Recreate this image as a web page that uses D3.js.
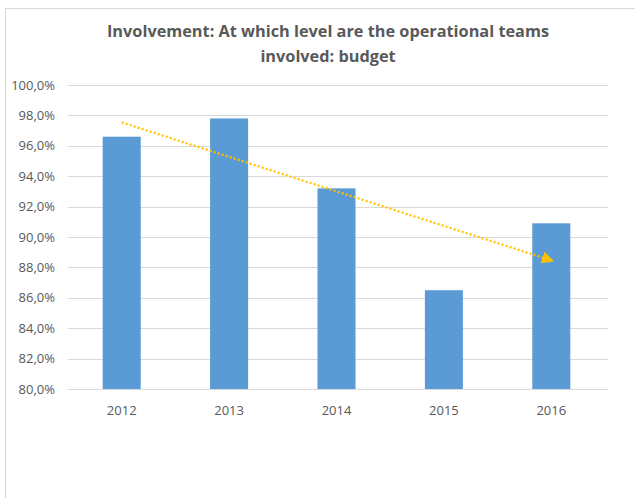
<!DOCTYPE html>
<html><head><meta charset="utf-8">
<script src="https://cdn.jsdelivr.net/npm/d3@7"></script>
<style>body{margin:0;background:#fff}svg{display:block}</style>
</head><body>
<script>
const categories = ["2012","2013","2014","2015","2016"];
const values = [96.6, 97.8, 93.2, 86.5, 90.9];
const yTicks = [80,82,84,86,88,90,92,94,96,98,100];
const titleLines = ["Involvement: At which level are the operational teams","involved: budget"];

const W = 635, H = 498;
const svg = d3.select("body").append("svg").attr("width", W).attr("height", H);
svg.append("rect").attr("x",5.5).attr("y",8.5).attr("width",700).attr("height",600)
  .attr("fill","#fff").attr("stroke","#d9d9d9").attr("stroke-width",1);

const m = {left:68, right:605, top:85, bottom:389};
const x = d3.scaleBand().domain(categories).range([m.left, m.right]).paddingInner(0.646).paddingOuter(0.323);
const y = d3.scaleLinear().domain([80,100]).range([m.bottom, m.top]);

const font = "Open Sans, Noto Sans, sans-serif";
// gridlines
svg.append("g").selectAll("line").data(yTicks).join("line")
  .attr("x1", m.left).attr("x2", 608)
  .attr("y1", d=>Math.round(y(d))+0.5).attr("y2", d=>Math.round(y(d))+0.5)
  .attr("stroke","#d9d9d9").attr("stroke-width",1);

// y axis labels
const yAxis = d3.axisLeft(y).tickValues(yTicks).tickSize(0).tickPadding(0)
  .tickFormat(d => d3.format(".1f")(d).replace(".", ",") + "%");
svg.append("g").attr("transform",`translate(55,0)`).call(yAxis)
  .call(g=>g.select(".domain").remove())
  .selectAll("text").attr("fill","#595959").attr("font-size",13).attr("font-family",font);

// bars
svg.append("g").selectAll("rect").data(values).join("rect")
  .attr("x",(d,i)=>x(categories[i])).attr("width",x.bandwidth())
  .attr("y",d=>y(d)).attr("height",d=>y(80)-y(d)).attr("fill","#5b9bd5");

// x axis
const xAxis = d3.axisBottom(x).tickSize(0).tickPadding(0);
svg.append("g").attr("transform",`translate(0,${m.bottom+17})`).call(xAxis)
  .call(g=>g.select(".domain").remove())
  .selectAll("text").attr("fill","#595959").attr("font-size",13).attr("font-family",font);
svg.append("line").attr("x1",m.left).attr("x2",608).attr("y1",m.bottom+0.5).attr("y2",m.bottom+0.5)
  .attr("stroke","#d9d9d9");

// trend line (linear regression)
const n = values.length, xs = values.map((d,i)=>i+1);
const mx = d3.mean(xs), my = d3.mean(values);
const slope = d3.sum(xs.map((xi,i)=>(xi-mx)*(values[i]-my))) / d3.sum(xs.map(xi=>(xi-mx)**2));
const icpt = my - slope*mx;
const cx = i => x(categories[i]) + x.bandwidth()/2;
const x0 = cx(0), y0 = y(icpt + slope*1), x1 = cx(n-1), y1 = y(icpt + slope*n);
svg.append("defs").append("marker").attr("id","arr").attr("viewBox","0 0 10 10")
  .attr("refX",5).attr("refY",5).attr("markerWidth",5.5).attr("markerHeight",5.5).attr("orient","auto")
  .append("path").attr("d","M0,0 L10,5 L0,10 z").attr("fill","#ffc000");
svg.append("line").attr("x1",x0).attr("y1",y0).attr("x2",x1-3).attr("y2",y1-1)
  .attr("stroke","#ffc000").attr("stroke-width",2.2).attr("stroke-dasharray","2,2.2")
  .attr("marker-end","url(#arr)");

// title
svg.append("g").selectAll("text").data(titleLines).join("text")
  .attr("x",328).attr("y",(d,i)=>37+i*25).attr("text-anchor","middle")
  .attr("fill","#595959").attr("font-size",16.3).attr("font-weight","bold").attr("font-family",font)
  .text(d=>d);
</script>
</body></html>
